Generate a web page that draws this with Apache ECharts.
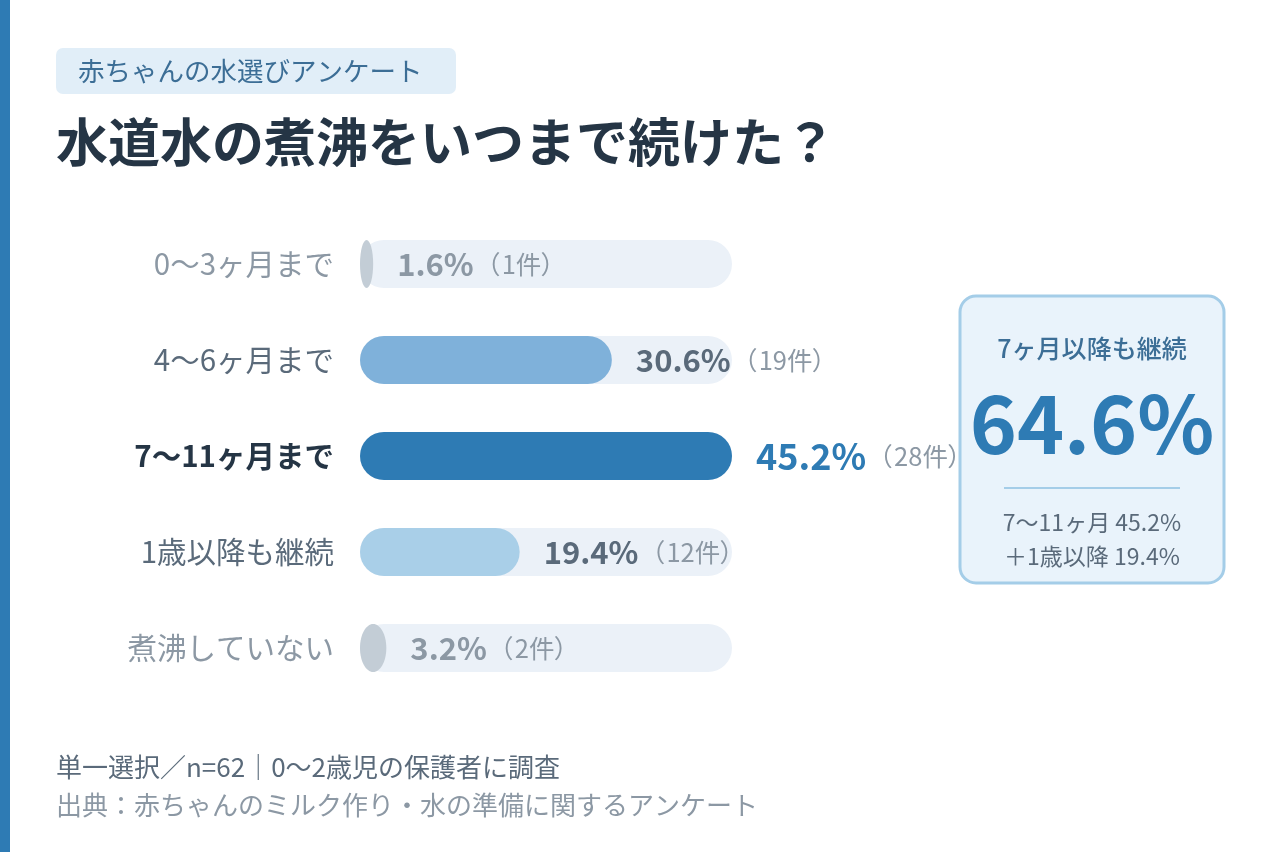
<!DOCTYPE html>
<html>
<head>
<meta charset="utf-8">
<script src="https://cdn.jsdelivr.net/npm/echarts@6/dist/echarts.min.js"></script>
<style>
  html, body { margin: 0; padding: 0; background: #fff; }
  #chart { width: 1280px; height: 852px; }
</style>
</head>
<body>
<div id="chart"></div>
<script>
const categories = ['0〜3ヶ月まで', '4〜6ヶ月まで', '7〜11ヶ月まで', '1歳以降も継続', '煮沸していない'];
const percents = [1.6, 30.6, 45.2, 19.4, 3.2];
const counts = [1, 19, 28, 12, 2];
const barColors = ['#C3CDD6', '#7FB1DA', '#2E7BB4', '#A9CFE8', '#C3CDD6'];
const summaryTotal = '64.6%';
const summaryLines = ['7〜11ヶ月 45.2%', '＋1歳以降 19.4%'];

const FONT = '"Noto Sans CJK JP", "Noto Sans", sans-serif';
const ink = '#253545', slate = '#5A6A7A', grey = '#8C98A4', blue = '#2E7BB4';
// row tone: 0 = muted, 1 = normal, 2 = highlight
const tone = [0, 1, 2, 1, 0];
const BAR_H = 48;
const MAX = 45.2;

// zrender text styles use fill, not color
const labelRich = {
  p0: { fontSize: 31, fontWeight: 'bold', fill: grey, fontFamily: FONT },
  p1: { fontSize: 31, fontWeight: 'bold', fill: slate, fontFamily: FONT },
  p2: { fontSize: 36, fontWeight: 'bold', fill: blue, fontFamily: FONT },
  o: { fontSize: 25.5, fill: grey, fontFamily: FONT, width: 28, align: 'right' },
  c: { fontSize: 25.5, fill: grey, fontFamily: FONT },
  e: { fontSize: 25.5, fill: grey, fontFamily: FONT, width: 24, align: 'left' }
};

function renderBar(params, api) {
  const i = params.dataIndex;
  const start = api.coord([0, api.value(1)]);
  const end = api.coord([api.value(0), api.value(1)]);
  const full = api.coord([MAX, api.value(1)]);
  const y = start[1] - BAR_H / 2;
  const w = end[0] - start[0];
  const bar = w < BAR_H
    ? { type: 'ellipse', shape: { cx: start[0] + w / 2, cy: start[1], rx: w / 2, ry: BAR_H / 2 }, style: { fill: barColors[i] } }
    : { type: 'rect', shape: { x: start[0], y: y, width: w, height: BAR_H, r: BAR_H / 2 }, style: { fill: barColors[i] } };
  return {
    type: 'group',
    children: [
      { type: 'rect', shape: { x: start[0], y: y, width: full[0] - start[0], height: BAR_H, r: BAR_H / 2 }, style: { fill: '#EBF1F8' } },
      bar,
      {
        type: 'text',
        x: end[0] + 24, y: start[1],
        style: {
          text: '{p' + tone[i] + '|' + percents[i].toFixed(1) + '%}{o|（}{c|' + counts[i] + '件}{e|）}',
          rich: labelRich,
          verticalAlign: 'middle',
          fontFamily: FONT
        }
      }
    ]
  };
}

const chart = echarts.init(document.getElementById('chart'));

chart.setOption({
  backgroundColor: '#fff',
  animation: false,
  textStyle: { fontFamily: FONT },
  grid: { left: 360, top: 216, width: 372, height: 480, containLabel: false },
  xAxis: { type: 'value', min: 0, max: MAX, show: false },
  yAxis: {
    type: 'category', data: categories, inverse: true,
    axisLine: { show: false }, axisTick: { show: false },
    axisLabel: {
      margin: 26,
      formatter: (v, i) => '{t' + tone[i] + '|' + v + '}',
      rich: {
        t0: { fontSize: 29.5, color: grey, fontFamily: FONT },
        t1: { fontSize: 29.5, color: slate, fontFamily: FONT },
        t2: { fontSize: 29.5, color: ink, fontWeight: 'bold', fontFamily: FONT }
      }
    }
  },
  series: [{
    type: 'custom',
    renderItem: renderBar,
    encode: { x: 0, y: 1 },
    data: percents.map((v, i) => [v, i])
  }],
  graphic: [
    { type: 'rect', shape: { x: 0, y: 0, width: 10, height: 852 }, style: { fill: blue } },
    { type: 'rect', shape: { x: 56, y: 48, width: 400, height: 46, r: 7 }, style: { fill: '#E1EEF8' } },
    { type: 'text', x: 78, y: 71, style: { text: '赤ちゃんの水選びアンケート', fill: '#3C6E96', font: '26.5px ' + FONT, textVerticalAlign: 'middle' } },
    { type: 'text', x: 56, y: 142, style: { text: '水道水の煮沸をいつまで続けた？', fill: ink, font: 'bold 52px ' + FONT, textVerticalAlign: 'middle' } },
    // summary box
    { type: 'rect', shape: { x: 960, y: 296, width: 264, height: 287, r: 16 }, style: { fill: '#E9F3FB', stroke: '#A4CDE8', lineWidth: 3 } },
    { type: 'text', x: 1092, y: 348, style: { text: '7ヶ月以降も継続', fill: '#3C6E96', font: '500 25px ' + FONT, textAlign: 'center', textVerticalAlign: 'middle' } },
    { type: 'text', x: 1092, y: 424, style: { text: summaryTotal, fill: blue, font: 'bold 80px ' + FONT, textAlign: 'center', textVerticalAlign: 'middle' } },
    { type: 'line', shape: { x1: 1004, y1: 488, x2: 1180, y2: 488 }, style: { stroke: '#A4CDE8', lineWidth: 2 } },
    { type: 'text', x: 1092, y: 522, style: { text: summaryLines[0], fill: slate, font: '23px ' + FONT, textAlign: 'center', textVerticalAlign: 'middle' } },
    { type: 'text', x: 1092, y: 556, style: { text: summaryLines[1], fill: slate, font: '23px ' + FONT, textAlign: 'center', textVerticalAlign: 'middle' } },
    // footnotes
    { type: 'text', x: 56, y: 767, style: { text: '単一選択／n=62｜0〜2歳児の保護者に調査', fill: slate, font: '26px ' + FONT, textVerticalAlign: 'middle' } },
    { type: 'text', x: 56, y: 805, style: { text: '出典：赤ちゃんのミルク作り・水の準備に関するアンケート', fill: grey, font: '26px ' + FONT, textVerticalAlign: 'middle' } }
  ]
});
</script>
</body>
</html>
